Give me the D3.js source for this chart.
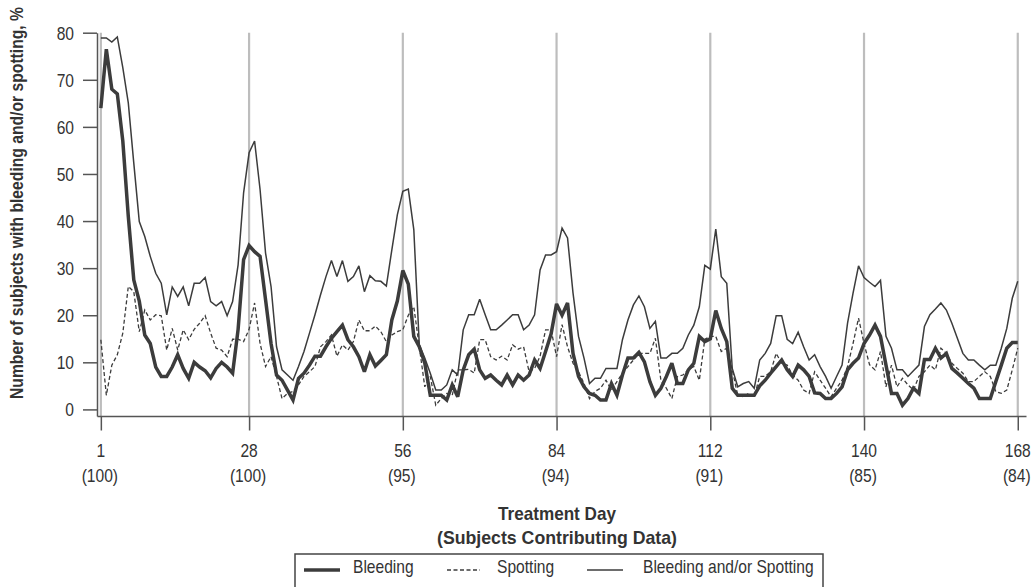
<!DOCTYPE html>
<html><head><meta charset="utf-8">
<script src="https://cdn.jsdelivr.net/npm/d3@7"></script>
<style>
body{margin:0;background:#fff;}
svg text{font-family:"Liberation Sans Narrow","Arial Narrow","Liberation Sans",Arial,sans-serif;fill:#333;}
</style></head><body>
<svg id="c" width="1036" height="587"></svg>
<script>
const bleeding = [
64,76.5,68,67,57,41,27.5,23,15.8,14,9,7,7,9,11.6,8.7,6.6,10,9,8.2,6.7,8.7,10,9,7.7,17,31.8,34.8,33.5,32.5,
23.3,14,7.3,6.2,4.1,2,6.6,7.7,9.4,11.3,11.3,13.3,15.1,16.5,17.9,14.8,13.3,11.2,8,11.6,9.2,10.4,11.6,19,23,29.5,
26.6,15.5,13.3,9.8,3,3,3,2,5.2,2.7,8.4,11.6,12.8,8.4,6.6,7.3,6.2,5.2,7.3,5.2,7.3,6.2,7.3,10.5,8.7,12.3,16,22.4,
20,22.6,11.9,7,4.8,3.4,3,2,2,5.5,3,7.3,10.9,10.9,12.1,10.1,5.9,3,4.5,7,9.8,5.5,5.5,8.4,9.8,15.5,14.4,15,
21,17.2,14.4,4.5,3,3,3,3,5,6.2,7.7,9.1,10.5,8.4,7,9.4,8.4,7,3.5,3.4,2.3,2.3,3.4,4.8,8.4,9.8,10.9,14,
15.8,17.9,15.5,9.4,3.4,3.4,0.9,2.3,4.5,3.4,10.6,10.6,13,10.9,11.9,8.7,7.7,6.6,5.5,4.5,2.3,2.3,2.3,5.9,9.4,13,14.2,14.2
];
const spotting = [
14.8,3,9.4,11.6,16.2,26.1,25,16.5,21.1,19,20.1,19.9,12.6,17.2,12.6,16.9,14.8,17,18.3,19.9,16.2,13,12.6,11.2,14.9,14.9,14.4,17,22.6,14,
9.1,11.2,7,2.3,3.4,3.8,5.2,7,8,9.1,13.3,14.4,15.8,11.3,13.7,12.6,14.4,19,16.7,16.7,17.7,16.5,14.4,15.8,16.5,16.9,
20,21.8,13.3,4.8,7,0.9,2.3,3.4,3,8.4,8.4,8.5,7.7,14.8,14.8,11.2,10.5,11.3,10.5,13.7,12.8,13.3,8,8.7,11.3,16.9,16.9,11.2,
18,13.3,9.8,8,5.5,2.3,3.8,4.5,6.2,4.1,5.9,7.7,9.1,10.5,11.9,11.9,11.9,15.1,6.2,4.5,2.3,7,7.3,8.4,9.1,6.2,14.9,15.5,
15.5,12.3,13,8.4,3,2.7,3.4,2.7,7,7,8,11.9,9.8,9.4,7.3,6.2,4.1,3.4,8,6.2,4.5,2.7,4.5,6.2,9.1,14,19.4,14,
9.5,8.4,12.3,4.8,9.4,4.8,6.6,5.2,4.1,7,8,9.4,8.4,13,11.9,9.8,8.7,7.7,5.9,5.9,7,8,7,3.8,3.4,4.1,8.4,13
];
const bleedingOrSpotting = [
78.9,78.9,78,79.1,72.6,65.1,52.3,39.9,36.7,32.5,28.9,26.8,20.1,26,24,26,22,26.8,26.8,28,22.9,22,22.9,19.9,22.9,30.7,46,54.5,57,46.7,
33.2,26.1,13.3,8.4,7.3,6.2,9.1,12.3,16.2,20.1,24.3,28.2,31.6,28.2,31.6,27.2,28.2,30.5,25,28.4,27.3,27.2,26.2,33.9,41.3,46.3,
46.8,38.2,13.7,10.9,7.7,4.1,4.1,5.2,8.4,7.3,16.9,20.1,20.1,23.4,20.1,16.9,16.9,17.9,19,20.1,20.1,16.9,17.9,20.1,29.6,32.8,32.8,33.5,
38.5,36.4,24.7,15.5,10.9,5.5,6.6,6.6,8.7,8.7,8.7,14.8,19,22.2,24.1,21.8,17.2,18.7,10.9,10.9,11.9,11.9,13,15.8,17.9,21.8,30.6,29.8,
38.3,28.2,26.8,8.7,4.8,5.5,5.9,4.5,10.5,11.9,14,19.9,19.9,14.9,14,16.4,13.3,10.5,11.6,9.1,7,4.5,7,9.4,18.3,24.7,30.5,28,
27,26.1,27.4,15.5,13,8.4,8.4,7,8.2,9.4,17.6,20.1,21.3,22.6,21.1,18.3,15.1,11.9,10.5,10.5,9.4,8.4,9.4,9.4,13,17.2,23.6,27.2
];
const days = d3.range(1, bleeding.length + 1);
const tickDays = [1, 28, 56, 84, 112, 140, 168];
const tickSubjects = ["(100)", "(100)", "(95)", "(94)", "(91)", "(85)", "(84)"];
const yTicks = [0, 10, 20, 30, 40, 50, 60, 70, 80];
const yTitle = "Number of subjects with bleeding and/or spotting, %";
const xTitle1 = "Treatment Day";
const xTitle2 = "(Subjects Contributing Data)";
const legendLabels = ["Bleeding", "Spotting", "Bleeding and/or Spotting"];

const svg = d3.select("#c");
const x = d3.scaleLinear().domain([0.3, 169.5]).range([97, 1026]);
const y = d3.scaleLinear().domain([-1.4, 80]).range([416, 32.7]);
const ink = "#3c3c3c";

// condense text horizontally to mimic a narrow face
function narrow(sel, f) {
  sel.each(function () {
    const w = this.getComputedTextLength();
    if (w > 0) d3.select(this).attr("textLength", w * f).attr("lengthAdjust", "spacingAndGlyphs");
  });
}

// grey reference lines
svg.append("g").selectAll("line").data(tickDays).join("line")
  .attr("x1", d => x(d)).attr("x2", d => x(d))
  .attr("y1", y(80)).attr("y2", y(-1.4))
  .attr("stroke", "#bdbdbd").attr("stroke-width", 2.2);

// y axis
const ya = svg.append("g").attr("transform", "translate(97,0)")
  .call(d3.axisLeft(y).tickValues(yTicks).tickSize(14).tickSizeOuter(0).tickPadding(9));
ya.select(".domain").attr("stroke", "#555").attr("stroke-width", 1.5);
ya.selectAll(".tick line").attr("stroke", "#555").attr("stroke-width", 1.5);
ya.selectAll(".tick text").attr("font-size", 19).attr("dy", "0.34em").call(narrow, 0.82);

// x axis
const xa = svg.append("g").attr("transform", "translate(0,416)")
  .call(d3.axisBottom(x).tickValues(tickDays).tickSize(14.5).tickSizeOuter(0).tickFormat(""));
xa.select(".domain").attr("stroke", "#555").attr("stroke-width", 1.5);
xa.selectAll(".tick line").attr("stroke", "#555").attr("stroke-width", 1.5);
const xlg = svg.append("g").attr("text-anchor", "middle").attr("font-size", 19);
xlg.selectAll("text.day").data(tickDays).join("text").attr("class", "day")
  .attr("x", d => x(d)).attr("y", 457).text(d => d).call(narrow, 0.82);
xlg.selectAll("text.subj").data(tickDays).join("text").attr("class", "subj")
  .attr("x", d => x(d) - 1).attr("y", 482).text((d, i) => tickSubjects[i]).call(narrow, 0.82);

// titles
svg.append("text").attr("transform", "translate(23,203) rotate(-90)")
  .attr("text-anchor", "middle").attr("font-size", 19).attr("font-weight", "bold")
  .attr("textLength", 392).attr("lengthAdjust", "spacingAndGlyphs").text(yTitle);
svg.append("text").attr("x", 557).attr("y", 520).attr("text-anchor", "middle")
  .attr("font-size", 19).attr("font-weight", "bold")
  .attr("textLength", 118).attr("lengthAdjust", "spacingAndGlyphs").text(xTitle1);
svg.append("text").attr("x", 557).attr("y", 544).attr("text-anchor", "middle")
  .attr("font-size", 19).attr("font-weight", "bold")
  .attr("textLength", 240).attr("lengthAdjust", "spacingAndGlyphs").text(xTitle2);

// series
const line = d3.line().x((d, i) => x(days[i])).y(d => y(d));
const series = [
  {vals: bleedingOrSpotting, w: 1.5, dash: null},
  {vals: spotting, w: 1.3, dash: "4,2.5"},
  {vals: bleeding, w: 3.5, dash: null}
];
svg.append("g").selectAll("path").data(series).join("path")
  .attr("d", s => line(s.vals)).attr("fill", "none").attr("stroke", ink)
  .attr("stroke-width", s => s.w).attr("stroke-dasharray", s => s.dash)
  .attr("stroke-linejoin", "miter").attr("stroke-miterlimit", 3);

// legend
const lg = svg.append("g");
lg.append("rect").attr("x", 295).attr("y", 554).attr("width", 528).attr("height", 40)
  .attr("fill", "none").attr("stroke", "#444").attr("stroke-width", 1.5);
const legendItems = [
  {x0: 304, x1: 340, tx: 353, w: 3.5, dash: null},
  {x0: 447, x1: 480, tx: 497, w: 1.3, dash: "4,2.5"},
  {x0: 587, x1: 623, tx: 643, w: 1.5, dash: null}
];
legendItems.forEach((it, i) => {
  lg.append("line").attr("x1", it.x0).attr("x2", it.x1).attr("y1", 570).attr("y2", 570)
    .attr("stroke", ink).attr("stroke-width", it.w).attr("stroke-dasharray", it.dash);
  lg.append("text").attr("x", it.tx).attr("y", 573).attr("font-size", 19)
    .text(legendLabels[i]).call(narrow, 0.82);
});
</script>
</body></html>
